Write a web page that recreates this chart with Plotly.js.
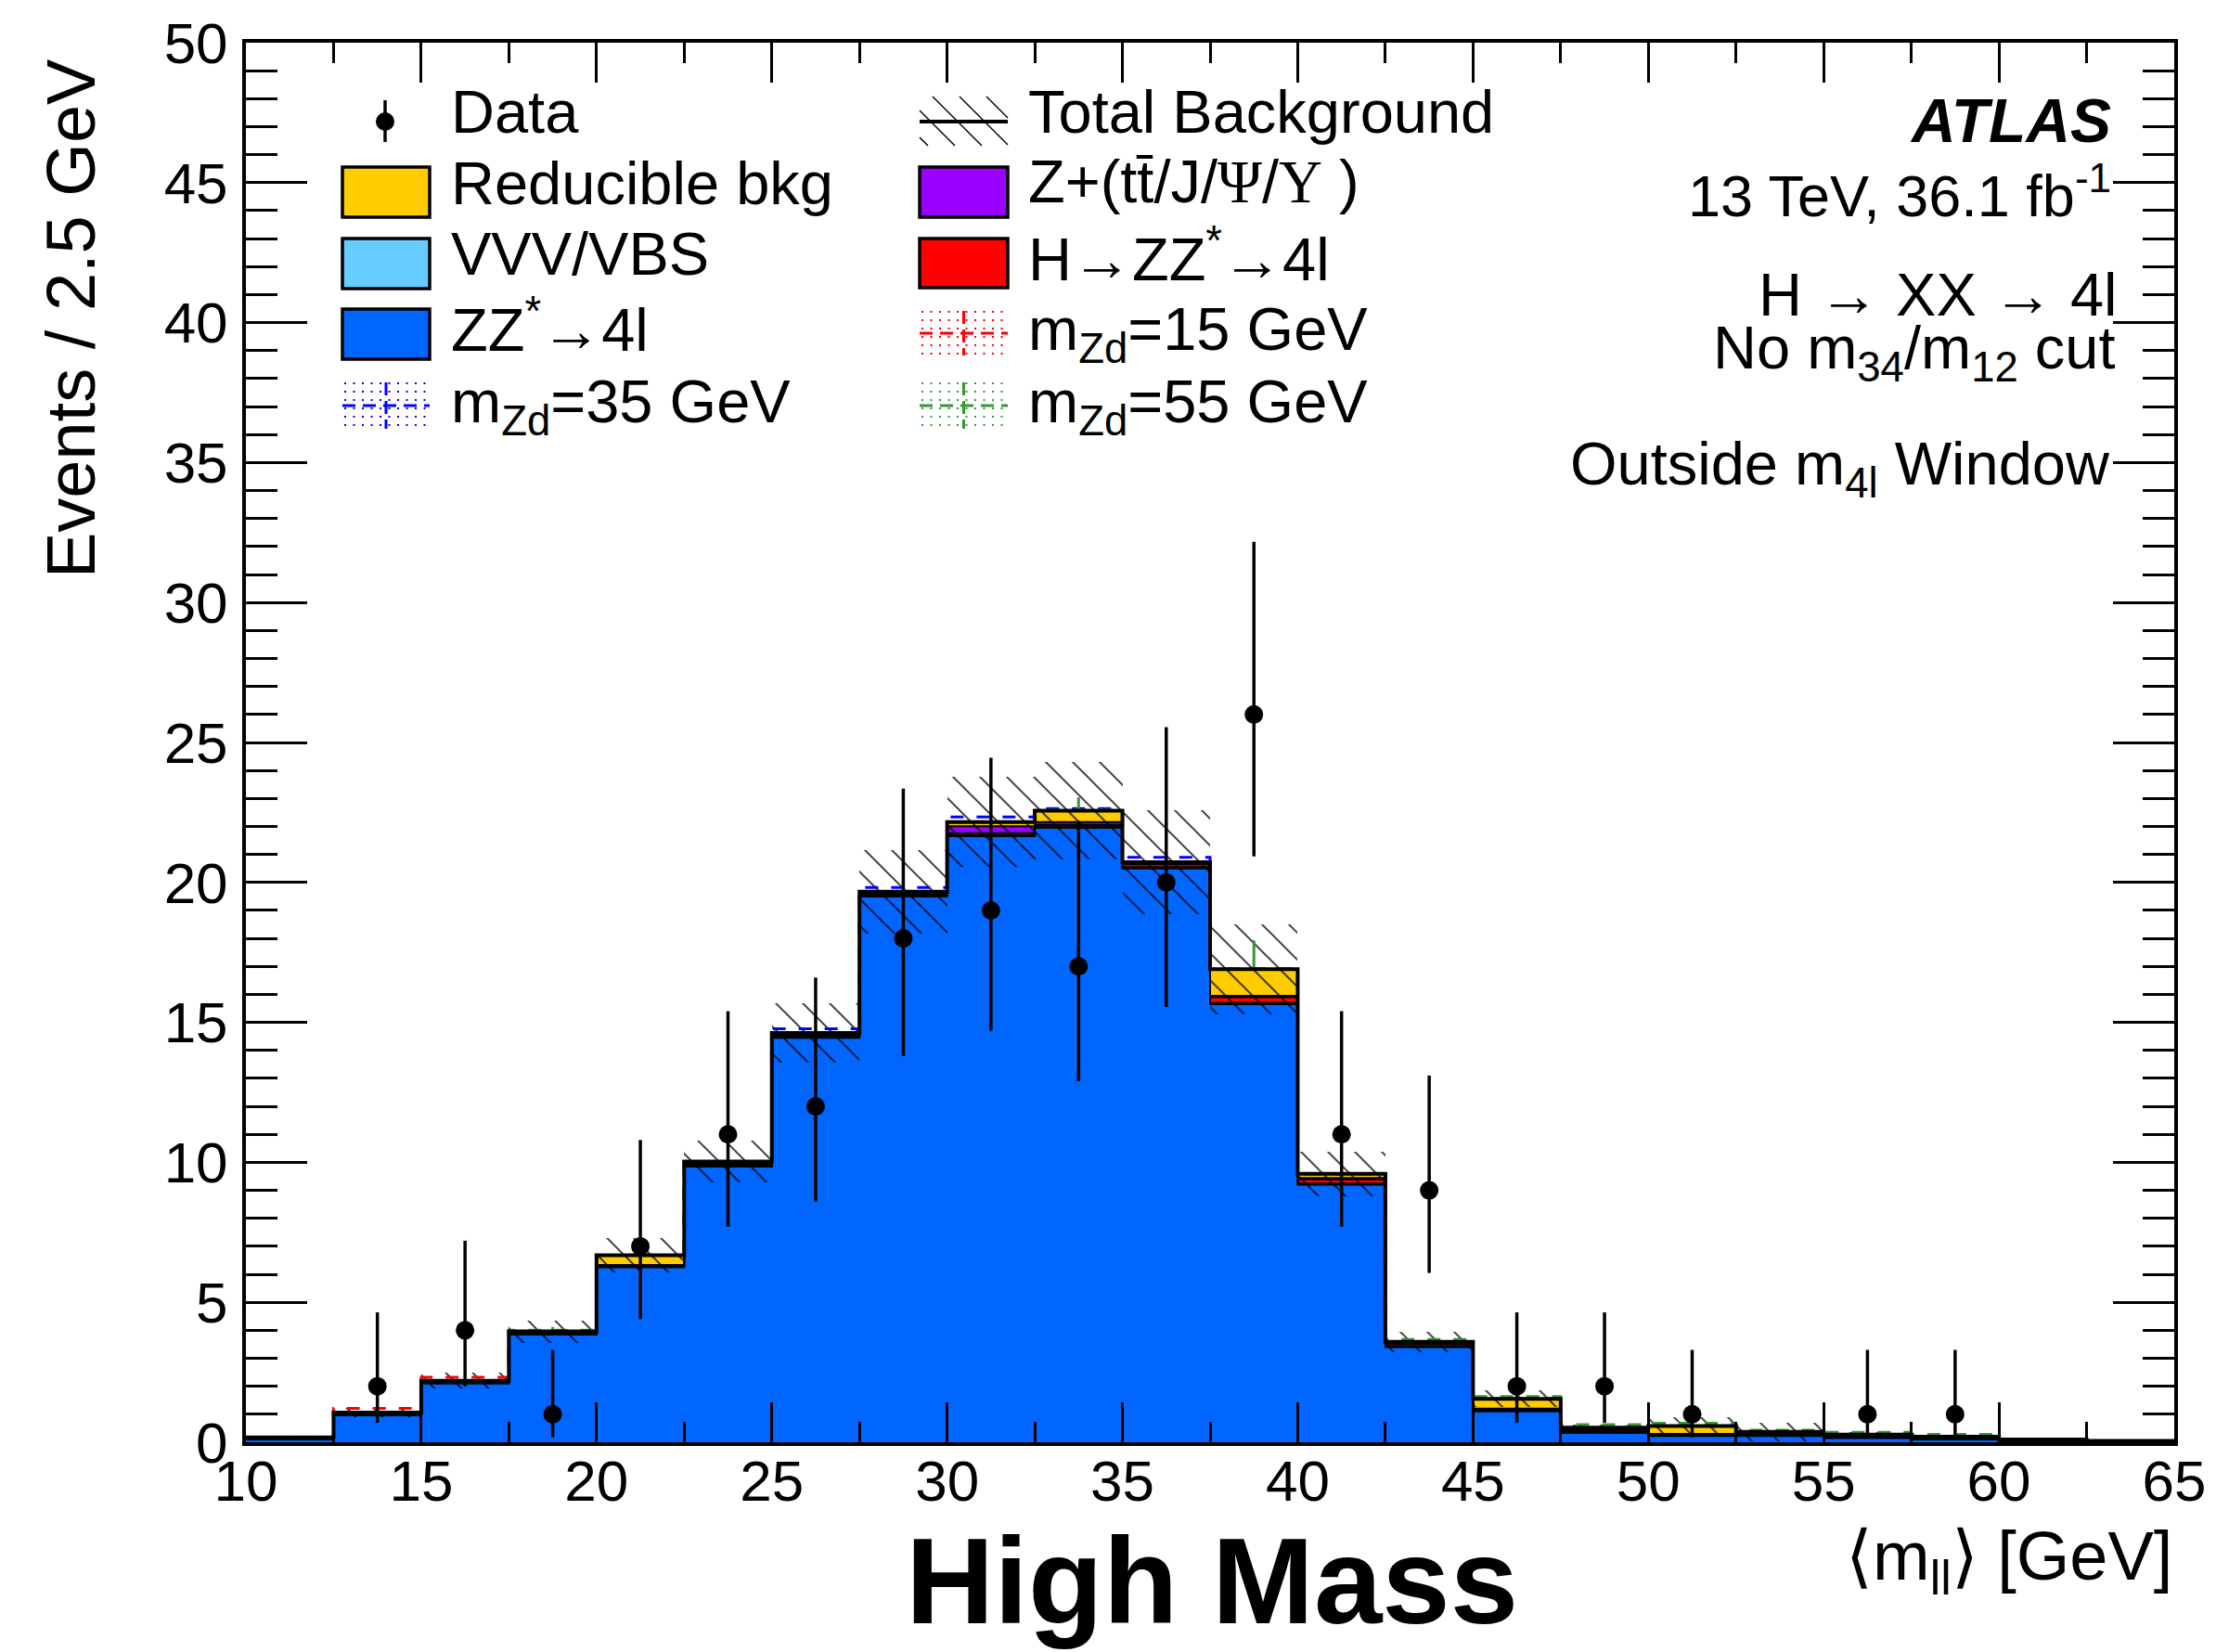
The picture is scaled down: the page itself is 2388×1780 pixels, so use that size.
<!DOCTYPE html>
<html><head><meta charset="utf-8">
<script src="https://cdn.plot.ly/plotly-3.0.1.min.js"></script>
<style>html,body{margin:0;padding:0;background:#fff;} #chart{width:2388px;height:1780px;}</style>
</head><body><div id="chart"></div>
<script>
// ---------------- data ----------------
const massBins = [11.25, 13.75, 16.25, 18.75, 21.25, 23.75, 26.25, 28.75, 31.25, 33.75, 36.25,
                  38.75, 41.25, 43.75, 46.25, 48.75, 51.25, 53.75, 56.25, 58.75, 61.25, 63.75];
const zz4l           = [0.10, 0.96, 2.10, 3.85, 6.25, 9.85, 14.45, 19.50, 21.65, 21.95, 20.50, 15.65, 9.20, 3.40, 1.10, 0.33, 0.22, 0.22, 0.15, 0.10, 0.04, 0.02];
const vvvVbs         = [0.01, 0.02, 0.03, 0.04, 0.05, 0.05, 0.05, 0.05, 0.06, 0.06, 0.05, 0.05, 0.04, 0.03, 0.03, 0.03, 0.03, 0.02, 0.02, 0.02, 0.01, 0.01];
const higgsZZ        = [0.00, 0.00, 0.00, 0.00, 0.00, 0.00, 0.00, 0.02, 0.05, 0.05, 0.10, 0.20, 0.15, 0.08, 0.05, 0.03, 0.02, 0.02, 0.02, 0.01, 0.01, 0.00];
const zPlusQuarkonia = [0.01, 0.02, 0.02, 0.02, 0.03, 0.05, 0.05, 0.05, 0.25, 0.10, 0.02, 0.05, 0.05, 0.03, 0.02, 0.05, 0.03, 0.05, 0.02, 0.02, 0.01, 0.00];
const reducibleBkg   = [0.05, 0.06, 0.05, 0.05, 0.35, 0.08, 0.07, 0.05, 0.15, 0.40, 0.05, 0.95, 0.15, 0.05, 0.35, 0.08, 0.28, 0.06, 0.06, 0.05, 0.03, 0.02];
const bkgUncert      = [0.05, 0.17, 0.28, 0.40, 0.60, 0.76, 1.07, 1.50, 1.60, 1.75, 1.85, 1.60, 0.80, 0.37, 0.30, 0.10, 0.30, 0.33, 0.08, 0.05, 0.02, 0.01];

const dataCounts  = [0, 2, 4, 1, 7, 11, 12, 18, 19, 17, 20, 26, 11, 9, 2, 2, 1, 0, 1, 1, 0, 0];
const dataErrUp   = [0, 2.64, 3.2, 2.3, 3.8, 4.4, 4.6, 5.35, 5.45, 5.2, 5.55, 6.17, 4.4, 4.1, 2.64, 2.64, 2.3, 0, 2.3, 2.3, 0, 0];
const dataErrDown = [0, 1.3, 2.0, 0.83, 2.6, 3.3, 3.4, 4.2, 4.3, 4.1, 4.45, 5.07, 3.3, 2.95, 1.3, 1.3, 0.83, 0, 0.83, 0.83, 0, 0];

// signal yields stacked on top of the total background
const sigZd15 = [0, 0.15, 0.12, 0, 0, 0, 0, 0, 0, 0, 0, 0, 0, 0, 0, 0, 0, 0, 0, 0, 0, 0];
const sigZd35 = [0, 0, 0, 0, 0, 0, 0.15, 0.15, 0.18, 0.08, 0.18, 0, 0, 0, 0, 0, 0, 0, 0, 0, 0, 0];
const sigZd55 = [0, 0, 0, 0.04, 0, 0, 0, 0, 0, 0.03, 0, 0.03, 0, 0.08, 0.08, 0.11, 0.10, 0.06, 0.09, 0.08, 0, 0];
const sigZd55ErrUp = [0, 0, 0, 0.12, 0, 0, 0, 0, 0, 0.45, 0, 1.0, 0, 0, 0, 0, 0, 0, 0, 0, 0, 0];

// ---------------- construction ----------------
const FONT = 'Liberation Sans, Arial, Helvetica, sans-serif';
const n = massBins.length;
const halfW = (massBins[1] - massBins[0]) / 2;
const edges = massBins.map(c => c - halfW).concat([massBins[n - 1] + halfW]);
const stepY = arr => arr.concat([arr[n - 1]]);

const layers = [
  {vals: zz4l, color: '#0066FF'},
  {vals: vvvVbs, color: '#66CCFF'},
  {vals: higgsZZ, color: '#FF0000'},
  {vals: zPlusQuarkonia, color: '#9900FF'},
  {vals: reducibleBkg, color: '#FFCC00'}
];

const traces = [];
let cum = new Array(n).fill(0);
const layerTops = [];
layers.forEach(L => {
  const base = cum.slice();
  traces.push({type: 'bar', x: massBins, y: L.vals, base: base, width: 2 * halfW,
    marker: {color: L.color, line: {width: 0}}, hoverinfo: 'skip', showlegend: false});
  cum = cum.map((v, i) => v + L.vals[i]);
  layerTops.push(cum.slice());
});
const total = cum;

// boundaries of each stacked component
layerTops.slice(0, 4).forEach(top => {
  traces.push({type: 'scatter', mode: 'lines', x: edges, y: stepY(top),
    line: {shape: 'hv', color: 'black', width: 2}, hoverinfo: 'skip', showlegend: false});
});

// signals on top of total background
[[sigZd15, '#FF0000'], [sigZd35, '#0000FF'], [sigZd55, '#339933']].forEach(([s, col]) => {
  traces.push({type: 'scatter', mode: 'lines', x: edges, y: stepY(total.map((t, i) => t + s[i])),
    line: {shape: 'hv', color: col, width: 3, dash: '14px,14px'}, hoverinfo: 'skip', showlegend: false});
});
traces.push({type: 'scatter', mode: 'markers', x: massBins, y: total.map((t, i) => t + sigZd55[i]),
  marker: {size: 1, color: 'rgba(0,0,0,0)'},
  error_y: {type: 'data', symmetric: false, array: sigZd55ErrUp, arrayminus: new Array(n).fill(0),
    color: '#339933', thickness: 3, width: 0}, hoverinfo: 'skip', showlegend: false});

// total background outline
traces.push({type: 'scatter', mode: 'lines', x: edges, y: stepY(total),
  line: {shape: 'hv', color: 'black', width: 4}, hoverinfo: 'skip', showlegend: false});

// uncertainty hatch
traces.push({type: 'bar', x: massBins,
  y: total.map((t, i) => (t + bkgUncert[i]) - Math.max(0, t - bkgUncert[i])),
  base: total.map((t, i) => Math.max(0, t - bkgUncert[i])), width: 2 * halfW,
  marker: {color: 'rgba(0,0,0,0)', line: {width: 0},
    pattern: {shape: '\\', fgcolor: 'black', bgcolor: 'rgba(0,0,0,0)', size: 20.5, solidity: 0.075, fillmode: 'replace'}},
  hoverinfo: 'skip', showlegend: false});

// data
const keep = dataCounts.map((v, i) => v > 0 ? i : -1).filter(i => i >= 0);
traces.push({type: 'scatter', mode: 'markers',
  x: keep.map(i => massBins[i]), y: keep.map(i => dataCounts[i]),
  marker: {size: 20, color: 'black'},
  error_y: {type: 'data', symmetric: false, array: keep.map(i => dataErrUp[i]),
    arrayminus: keep.map(i => dataErrDown[i]), color: 'black', thickness: 3.5, width: 0},
  showlegend: false});

// ---------------- layout helpers (pixel -> paper) ----------------
const PL = 265, PR = 2343, PT = 46, PB = 1554;
const px = x => (x - PL) / (PR - PL);
const py = y => (PB - y) / (PB - PT);

const ann = [];
const shapes = [];
function txt(text, x, y, size, xanchor, extra) {
  ann.push(Object.assign({text: text, x: px(x), y: py(y), xref: 'paper', yref: 'paper',
    xanchor: xanchor, yanchor: 'middle', showarrow: false,
    font: {family: FONT, size: size, color: 'black'}}, extra || {}));
}
function line(x0, y0, x1, y1, color, width, dash) {
  shapes.push({type: 'line', xref: 'paper', yref: 'paper', x0: px(x0), y0: py(y0), x1: px(x1), y1: py(y1),
    line: {color: color, width: width, dash: dash || 'solid'}});
}
function box(x0, y0, x1, y1, fill) {
  shapes.push({type: 'rect', xref: 'paper', yref: 'paper', x0: px(x0), y0: py(y0), x1: px(x1), y1: py(y1),
    fillcolor: fill, line: {color: 'black', width: 3.5}});
}
function sigSymbol(x0, y0, x1, y1, color) {
  for (let xx = x0 + 3; xx < x1; xx += 9.5) line(xx, y0, xx, y1, color, 2, '2px,7px');
  line(x0, (y0 + y1) / 2, x1, (y0 + y1) / 2, color, 3, '14px,8px');
  line((x0 + x1) / 2, y0, (x0 + x1) / 2, y1, color, 3, '14px,6px');
}

// legend column 1
shapes.push({type: 'circle', xref: 'paper', yref: 'paper', x0: px(405), x1: px(425), y0: py(141), y1: py(121),
  fillcolor: 'black', line: {width: 0}});
line(415, 108, 415, 153, 'black', 3.5);
box(369, 180, 463, 234, '#FFCC00');
box(369, 257, 463, 311, '#66CCFF');
box(369, 333, 463, 387, '#0066FF');
sigSymbol(369, 412, 463, 462, '#0000FF');
txt('Data', 484, 121, 65, 'left');
txt('Reducible bkg', 484, 197, 65, 'left');
txt('VVV/VBS', 484, 273, 65, 'left');
txt('ZZ<sup>*</sup>→4l', 484, 351, 65, 'left');
txt('m<sub>Zd</sub>=35 GeV', 484, 437, 65, 'left');

// legend column 2
line(991, 131, 1086, 131, 'black', 4);
[947, 976, 1005, 1034, 1063].forEach(t => {
  let xa = t, ya = 104, xb = t + 53, yb = 157;
  if (xa < 991) { ya += 991 - xa; xa = 991; }
  if (xb > 1086) { yb -= xb - 1086; xb = 1086; }
  if (xb > xa) line(xa, ya, xb, yb, 'black', 1.5);
});
box(991, 180, 1086, 234, '#9900FF');
box(991, 257, 1086, 310, '#FF0000');
sigSymbol(991, 335, 1086, 383, '#FF0000');
sigSymbol(991, 412, 1086, 462, '#339933');
txt('Total Background', 1106, 121, 65, 'left');
txt('Z+(tt\u0304/J/<span style="font-family:Liberation Serif, DejaVu Serif, serif">Ψ</span>/<span style="font-family:Liberation Serif, DejaVu Serif, serif">Υ</span> )', 1106, 195, 65, 'left');
txt('H→ZZ<sup>*</sup>→4l', 1106, 275, 65, 'left');
txt('m<sub>Zd</sub>=15 GeV', 1106, 359, 65, 'left');
txt('m<sub>Zd</sub>=55 GeV', 1106, 437, 65, 'left');

// right-hand labels
txt('<b><i>ATLAS</i></b>', 2277, 130, 66, 'right');
txt('13 TeV, 36.1 fb<sup>-1</sup>', 2277, 207, 63, 'right');
txt('H → XX → 4l', 2283, 317, 65, 'right');
txt('No m<sub>34</sub>/m<sub>12</sub> cut', 2282, 379, 65, 'right');
txt('Outside m<sub>4l</sub> Window', 2276, 504, 65, 'right');

// axis titles
ann.push({text: 'Events / 2.5 GeV', x: px(76), y: py(61), xref: 'paper', yref: 'paper',
  xanchor: 'center', yanchor: 'top', textangle: -90, showarrow: false,
  font: {family: FONT, size: 74, color: 'black'}});
txt('⟨m<sub>ll</sub>⟩ [GeV]', 2343, 1682, 74, 'right');
txt('<b>High Mass</b>', 1306, 1703, 132, 'center');

const axisCommon = {
  showline: true, linecolor: 'black', linewidth: 4, mirror: 'allticks',
  ticks: 'inside', tickcolor: 'black', tickwidth: 3,
  showgrid: false, zeroline: false,
  tickfont: {family: FONT, size: 62, color: 'black'}
};

const layout = {
  width: 2388, height: 1780,
  margin: {l: PL, r: 2388 - PR, t: PT, b: 1780 - PB, pad: 0},
  paper_bgcolor: 'white', plot_bgcolor: 'white',
  barmode: 'overlay', bargap: 0, showlegend: false,
  xaxis: Object.assign({}, axisCommon, {range: [10, 65], tickmode: 'linear', tick0: 10, dtick: 5,
    ticklen: 43, ticklabelstandoff: -15,
    minor: {dtick: 2.5, tick0: 10, ticklen: 22, tickwidth: 3, ticks: 'inside', tickcolor: 'black', showgrid: false}}),
  yaxis: Object.assign({}, axisCommon, {range: [0, 50], tickmode: 'linear', tick0: 0, dtick: 5,
    ticklen: 66, ticklabelstandoff: 3,
    minor: {dtick: 1, tick0: 0, ticklen: 34, tickwidth: 3, ticks: 'inside', tickcolor: 'black', showgrid: false}}),
  annotations: ann,
  shapes: shapes
};

Plotly.newPlot('chart', traces, layout, {staticPlot: true, displayModeBar: false});
</script></body></html>
